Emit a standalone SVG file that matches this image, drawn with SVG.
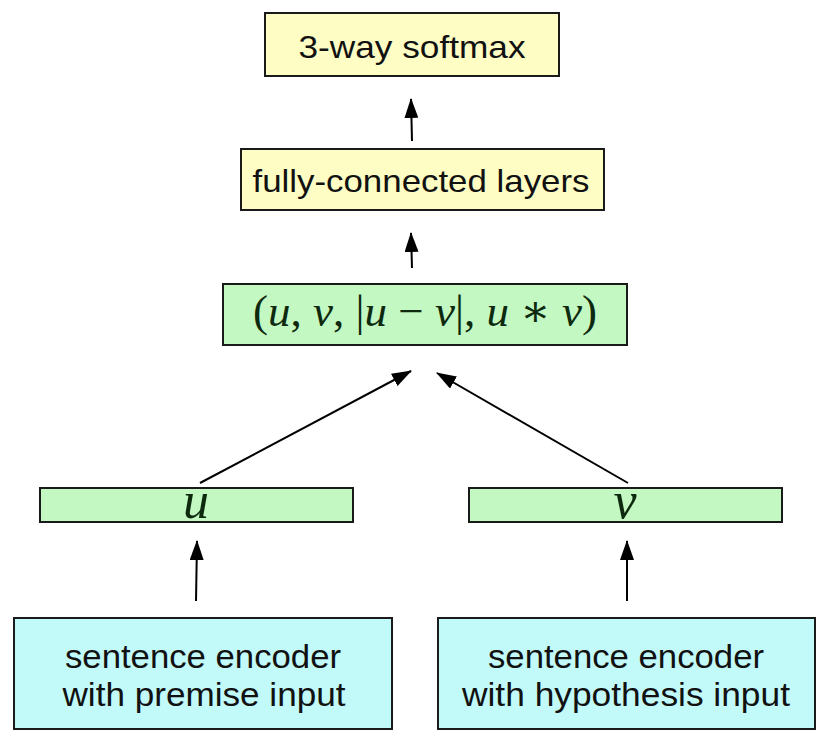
<svg xmlns="http://www.w3.org/2000/svg" width="830" height="744" viewBox="0 0 830 744">
<style>
.box{stroke:#1a1a1a;stroke-width:2}
.y{fill:#fdfdc4}.g{fill:#c4f8c2}.c{fill:#c2fafa}
.t{font-family:"Liberation Sans",Arial,sans-serif;fill:#111;text-anchor:middle}
.m{font-family:"Liberation Serif","DejaVu Serif",serif;font-style:italic;fill:#0e2a0e;text-anchor:middle}
.mu{font-family:"Liberation Serif","DejaVu Serif",serif;font-style:normal}
.con line{stroke:#000;stroke-width:2}
</style>
<defs>
<marker id="ahb" viewBox="0 0 20 14" refX="19" refY="7" markerWidth="20" markerHeight="14" orient="auto" markerUnits="userSpaceOnUse"><path d="M0,0 L20,7 L0,14 z" fill="#000"/></marker>
</defs>
<rect width="830" height="744" fill="#fff"/>
<g id="softmax"><rect class="box y" x="265" y="13" width="294" height="63"/><text class="t" x="412" y="58" font-size="32" textLength="227" lengthAdjust="spacingAndGlyphs">3-way softmax</text></g>
<g id="fc"><rect class="box y" x="241" y="149" width="363" height="61"/><text class="t" x="421" y="192" font-size="32" textLength="337" lengthAdjust="spacingAndGlyphs">fully-connected layers</text></g>
<g id="combo"><rect class="box g" x="223" y="284" width="404" height="61"/><text class="m" x="425" y="326" font-size="44" textLength="344" lengthAdjust="spacingAndGlyphs"><tspan class="mu">(</tspan>u<tspan class="mu">, </tspan>v<tspan class="mu">, |</tspan>u<tspan class="mu"> − </tspan>v<tspan class="mu">|, </tspan>u<tspan class="mu"> ∗ </tspan>v<tspan class="mu">)</tspan></text></g>
<g id="u"><rect class="box g" x="40" y="488" width="313" height="34"/><text class="m" x="196" y="518" font-size="52">u</text></g>
<g id="v"><rect class="box g" x="469" y="488" width="313" height="34"/><text class="m" x="625" y="518" font-size="52">v</text></g>
<g id="premise"><rect class="box c" x="14" y="618" width="378" height="111"/><text class="t" x="203" y="668" font-size="34" textLength="276" lengthAdjust="spacingAndGlyphs">sentence encoder</text><text class="t" x="204" y="706" font-size="34" textLength="283" lengthAdjust="spacingAndGlyphs">with premise input</text></g>
<g id="hypothesis"><rect class="box c" x="438" y="618" width="377" height="111"/><text class="t" x="626" y="668" font-size="34" textLength="276" lengthAdjust="spacingAndGlyphs">sentence encoder</text><text class="t" x="626" y="706" font-size="34" textLength="328" lengthAdjust="spacingAndGlyphs">with hypothesis input</text></g>
<g id="connectors" class="con">
<line x1="412" y1="141" x2="411" y2="99" marker-end="url(#ahb)"/>
<line x1="412" y1="268" x2="411" y2="233" marker-end="url(#ahb)"/>
<line x1="200" y1="483" x2="411" y2="371" marker-end="url(#ahb)"/>
<line x1="628" y1="483" x2="437" y2="373" marker-end="url(#ahb)"/>
<line x1="196" y1="601" x2="197" y2="541" marker-end="url(#ahb)"/>
<line x1="627" y1="601" x2="627" y2="541" marker-end="url(#ahb)"/>
</g>
</svg>
